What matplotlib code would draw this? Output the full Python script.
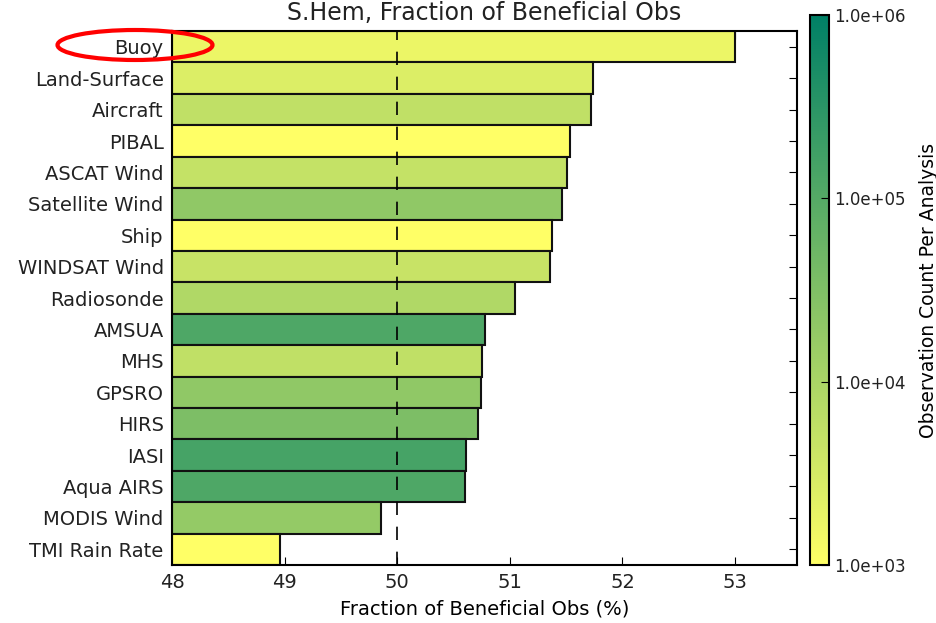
import matplotlib
matplotlib.use("Agg")
import matplotlib.pyplot as plt
import numpy as np
from matplotlib.colors import LogNorm
from matplotlib.patches import Ellipse

obs_types = ["Buoy", "Land-Surface", "Aircraft", "PIBAL", "ASCAT Wind",
             "Satellite Wind", "Ship", "WINDSAT Wind", "Radiosonde", "AMSUA",
             "MHS", "GPSRO", "HIRS", "IASI", "Aqua AIRS", "MODIS Wind",
             "TMI Rain Rate"]
frac_beneficial = [53.0, 51.74, 51.72, 51.53, 51.51, 51.46, 51.37, 51.36,
                   51.05, 50.78, 50.75, 50.74, 50.72, 50.61, 50.60, 49.86, 48.96]
obs_counts = [1.7e3, 2.6e3, 5.6e3, 1.0e3, 5.0e3, 2.0e4, 1.0e3, 4.5e3,
              8.5e3, 1.2e5, 5.5e3, 2.0e4, 3.4e4, 1.5e5, 1.2e5, 1.8e4, 1.0e3]
cbar_ticks = [1e3, 1e4, 1e5, 1e6]

plt.rcParams['font.family'] = 'DejaVu Sans'
plt.rcParams['xtick.direction'] = 'in'
plt.rcParams['ytick.direction'] = 'in'
plt.rcParams['text.color'] = '#222222'
plt.rcParams['xtick.labelcolor'] = '#222222'
plt.rcParams['ytick.labelcolor'] = '#222222'

fig = plt.figure(figsize=(9.37, 6.23), dpi=100)
ax = fig.add_axes([0.1836, 0.0931, 0.667, 0.857])
cax = fig.add_axes([0.8645, 0.0931, 0.0203, 0.883])

norm = LogNorm(vmin=1e3, vmax=1e6)
cmap = plt.get_cmap('summer_r')

y = np.arange(len(obs_types))[::-1]
base = 48.0
widths = np.array(frac_beneficial) - base
ax.barh(y, widths, left=base, height=1.0, color=cmap(norm(obs_counts)),
        edgecolor='#111111', linewidth=1.5, zorder=2)
ax.axvline(50, color='black', linestyle=(0, (8, 7)), linewidth=1.2, zorder=3)

ax.set_xlim(48, 53.55)
ax.set_ylim(-0.5, len(obs_types) - 0.5)
ax.set_yticks(y)
ax.set_yticklabels(obs_types, fontsize=14)
ax.set_xticks([48, 49, 50, 51, 52, 53])
ax.tick_params(axis='x', labelsize=14, top=True, length=6, pad=6)
ax.tick_params(axis='y', right=True, length=6, pad=6)
ax.set_xlabel("Fraction of Beneficial Obs (%)", fontsize=14, labelpad=5)
ax.set_title("S.Hem, Fraction of Beneficial Obs", fontsize=17, pad=8)
for s in ax.spines.values():
    s.set_linewidth(1.5)

sm = plt.cm.ScalarMappable(norm=norm, cmap=cmap)
cb = fig.colorbar(sm, cax=cax, ticks=cbar_ticks, format='%.1e')
cb.ax.minorticks_off()
cb.ax.tick_params(labelsize=12, direction='in', length=6)
cb.outline.set_linewidth(1.5)
cb.set_label("Observation Count Per Analysis", fontsize=13.5, labelpad=10)

fig.add_artist(Ellipse((135 / 937, 1 - 45 / 623), 155 / 937, 30 / 623,
                       transform=fig.transFigure, fill=False,
                       edgecolor='red', linewidth=3))

fig.savefig("out.png", dpi=100, facecolor='white')
